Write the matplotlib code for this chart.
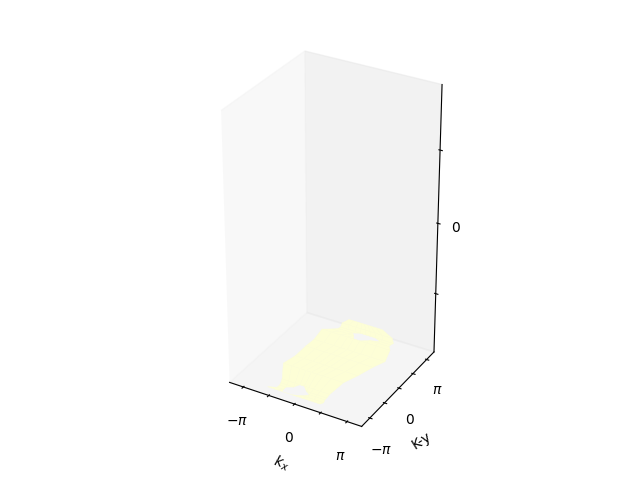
import numpy as np
import matplotlib
matplotlib.use('Agg')
import matplotlib.pyplot as plt

# Filas de la superficie: ky y bordes en kx
ky_rows = [-3.5, -3.3, -3.1, -2.9, -2.6, -1.4, -0.4, 0.7, 1.5, 2.6, 2.95, 3.15, 3.35, 3.7, 4.2]
kx_left = [-1.95, -1.5, -1.45, -1.5, -1.6, -2.25, -2.1, -2.1, -2.05, -2.2, -1.75, -1.5, -1.45, -1.55, -1.4]
kx_right = [1.25, 1.35, 1.3, 1.3, 1.3, 1.45, 1.75, 2.05, 2.35, 2.05, 1.8, 1.8, 1.85, 1.6, 0.7]
# Energia por fila
energy_rows = [-1.83, -1.83, -1.82, -1.82, -1.81, -1.79, -1.80, -1.80, -1.80, -1.80, -1.81, -1.81, -1.81, -1.80, -1.80]
# Posicion relativa de las columnas dentro de cada fila
col_fracs = [0.0, 0.14, 0.28, 0.38, 0.47, 0.56, 0.66, 0.8, 1.0]
# Celdas vacias (fila, columna)
hole_cells = [(1, 2), (1, 3), (1, 4), (2, 2), (2, 3), (2, 4), (2, 5),
              (3, 3), (3, 4), (10, 4), (10, 5), (11, 3), (11, 4), (11, 5), (11, 6)]
tick_values = [-3.14159, -1.5708, 0, 1.5708, 3.14159]
tick_labels = ['$-\\pi$', '', '0', '', '$\\pi$']
z_ticks = [-1, 0, 1]
z_labels = ['', '0', '']

left = np.array(kx_left)[:, None]
right = np.array(kx_right)[:, None]
KX = left + (right - left) * np.array(col_fracs)[None, :]
KY = np.array(ky_rows)[:, None] * np.ones((1, len(col_fracs)))
Z = np.array(energy_rows)[:, None] * np.ones((1, len(col_fracs)))
for row, col in hole_cells:
    Z[row, col] = np.nan

fig = plt.figure(figsize=(6.4, 4.8), dpi=100)
ax = fig.add_subplot(projection='3d')
ax.set_box_aspect((1, 1, 2))
ax.plot_surface(KX, KY, Z, color='#fdfed6', edgecolor='#fdfed6', linewidth=0.3, shade=False)

ax.set_xlim(-4, 4)
ax.set_ylim(-4, 4)
ax.set_zlim(-1.86, 1.86)
ax.set_xticks(tick_values)
ax.set_xticklabels(tick_labels)
ax.set_yticks(tick_values)
ax.set_yticklabels(tick_labels)
ax.set_zticks(z_ticks)
ax.set_zticklabels(z_labels)
ax.set_xlabel('$k_x$')
ax.set_ylabel('K-y')
ax.yaxis.set_rotate_label(False)
ax.yaxis.label.set_rotation(32)
ax.grid(False)

plt.savefig('out.png', dpi=100)
